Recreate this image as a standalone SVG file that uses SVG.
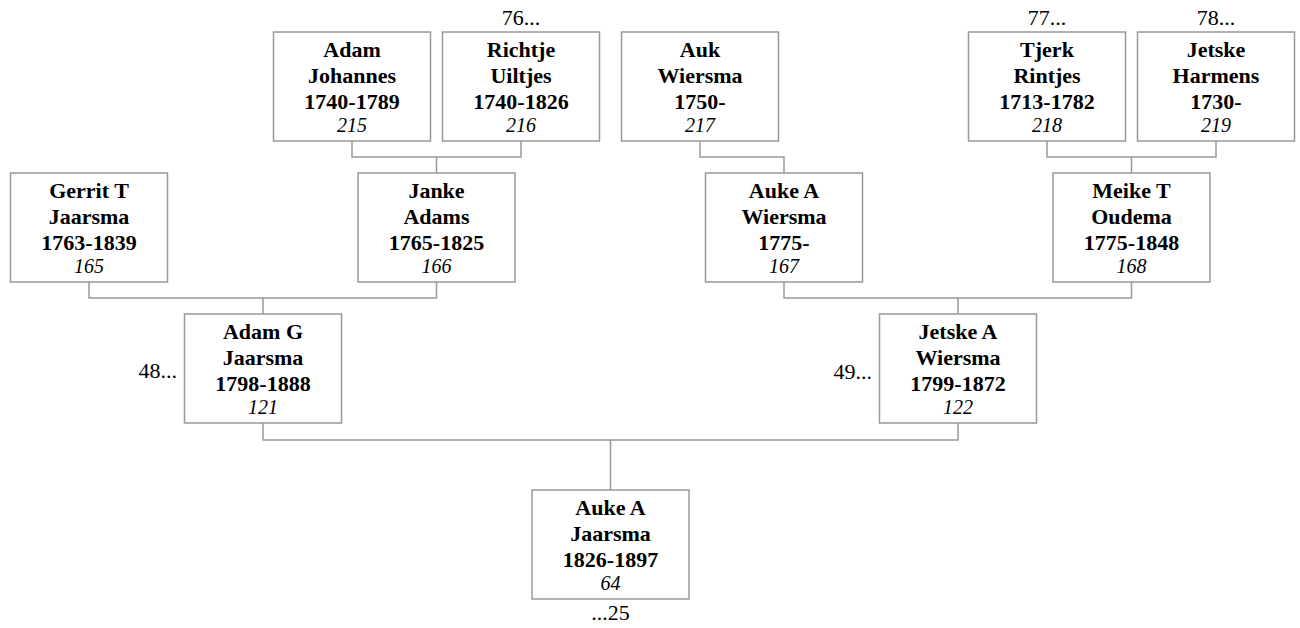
<svg xmlns="http://www.w3.org/2000/svg" width="1300" height="628" viewBox="0 0 1300 628">
<style>
.box{fill:#fff;stroke:#999;stroke-width:1.5}
.n{font-family:"Times New Roman","Liberation Serif","DejaVu Serif",serif;font-size:22px;font-weight:bold;fill:#000;text-anchor:middle}
.i{font-family:"Times New Roman","Liberation Serif","DejaVu Serif",serif;font-size:20px;font-style:italic;fill:#000;text-anchor:middle}
.t{font-family:"Times New Roman","Liberation Serif","DejaVu Serif",serif;font-size:22px;fill:#000}
.c{fill:none;stroke:#999;stroke-width:1.5}
</style>
<rect width="1300" height="628" fill="#fff"/>
<g id="connectors">
<path class="c" d="M352,141V157H521V141M436.5,157V173"/>
<path class="c" d="M700,141V157H784V173"/>
<path class="c" d="M1047,141V157H1216V141M1131.5,157V173"/>
<path class="c" d="M89,282V298H436.5V282M263,298V314"/>
<path class="c" d="M784,282V298H1131.5V282M958,298V314"/>
<path class="c" d="M263,423V440H958V423M610.5,440V490"/>
</g>
<g id="n215"><rect class="box" x="273.5" y="32" width="157" height="109"/><text class="n" x="352" y="56.5">Adam</text><text class="n" x="352" y="82.5">Johannes</text><text class="n" x="352" y="109">1740-1789</text><text class="i" x="352" y="132">215</text></g>
<g id="n216"><rect class="box" x="442.5" y="32" width="157" height="109"/><text class="n" x="521" y="56.5">Richtje</text><text class="n" x="521" y="82.5">Uiltjes</text><text class="n" x="521" y="109">1740-1826</text><text class="i" x="521" y="132">216</text></g>
<g id="n217"><rect class="box" x="621.5" y="32" width="157" height="109"/><text class="n" x="700" y="56.5">Auk</text><text class="n" x="700" y="82.5">Wiersma</text><text class="n" x="700" y="109">1750-</text><text class="i" x="700" y="132">217</text></g>
<g id="n218"><rect class="box" x="968.5" y="32" width="157" height="109"/><text class="n" x="1047" y="56.5">Tjerk</text><text class="n" x="1047" y="82.5">Rintjes</text><text class="n" x="1047" y="109">1713-1782</text><text class="i" x="1047" y="132">218</text></g>
<g id="n219"><rect class="box" x="1137.5" y="32" width="157" height="109"/><text class="n" x="1216" y="56.5">Jetske</text><text class="n" x="1216" y="82.5">Harmens</text><text class="n" x="1216" y="109">1730-</text><text class="i" x="1216" y="132">219</text></g>
<g id="n165"><rect class="box" x="10.5" y="173" width="157" height="109"/><text class="n" x="89" y="197.5">Gerrit T</text><text class="n" x="89" y="223.5">Jaarsma</text><text class="n" x="89" y="250">1763-1839</text><text class="i" x="89" y="273">165</text></g>
<g id="n166"><rect class="box" x="358" y="173" width="157" height="109"/><text class="n" x="436.5" y="197.5">Janke</text><text class="n" x="436.5" y="223.5">Adams</text><text class="n" x="436.5" y="250">1765-1825</text><text class="i" x="436.5" y="273">166</text></g>
<g id="n167"><rect class="box" x="705.5" y="173" width="157" height="109"/><text class="n" x="784" y="197.5">Auke A</text><text class="n" x="784" y="223.5">Wiersma</text><text class="n" x="784" y="250">1775-</text><text class="i" x="784" y="273">167</text></g>
<g id="n168"><rect class="box" x="1053" y="173" width="157" height="109"/><text class="n" x="1131.5" y="197.5">Meike T</text><text class="n" x="1131.5" y="223.5">Oudema</text><text class="n" x="1131.5" y="250">1775-1848</text><text class="i" x="1131.5" y="273">168</text></g>
<g id="n121"><rect class="box" x="184.5" y="314" width="157" height="109"/><text class="n" x="263" y="338.5">Adam G</text><text class="n" x="263" y="364.5">Jaarsma</text><text class="n" x="263" y="391">1798-1888</text><text class="i" x="263" y="414">121</text></g>
<g id="n122"><rect class="box" x="879.5" y="314" width="157" height="109"/><text class="n" x="958" y="338.5">Jetske A</text><text class="n" x="958" y="364.5">Wiersma</text><text class="n" x="958" y="391">1799-1872</text><text class="i" x="958" y="414">122</text></g>
<g id="n64"><rect class="box" x="532" y="490" width="157" height="109"/><text class="n" x="610.5" y="514.5">Auke A</text><text class="n" x="610.5" y="540.5">Jaarsma</text><text class="n" x="610.5" y="567">1826-1897</text><text class="i" x="610.5" y="590">64</text></g>
<g id="refs">
<text class="t" x="521" y="25" text-anchor="middle">76...</text>
<text class="t" x="1047" y="25" text-anchor="middle">77...</text>
<text class="t" x="1216" y="25" text-anchor="middle">78...</text>
<text class="t" x="177" y="378" text-anchor="end">48...</text>
<text class="t" x="872" y="379" text-anchor="end">49...</text>
<text class="t" x="610.5" y="620" text-anchor="middle">...25</text>
</g>
</svg>
